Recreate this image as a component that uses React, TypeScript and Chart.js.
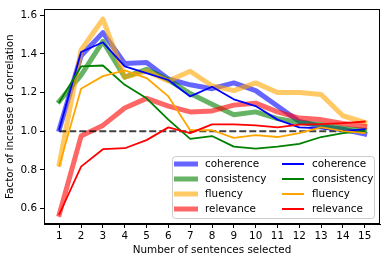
import React, { useEffect, useRef } from "react";
import Chart from "chart.js/auto";

const SENTENCES = [1, 2, 3, 4, 5, 6, 7, 8, 9, 10, 11, 12, 13, 14, 15];
const Y_TICKS = [0.6, 0.8, 1.0, 1.2, 1.4, 1.6];
const METRICS = ["coherence", "consistency", "fluency", "relevance"];

// thick translucent lines
const coherenceA = [1.01, 1.39, 1.51, 1.35, 1.355, 1.27, 1.24, 1.22, 1.25, 1.21, 1.13, 1.05, 1.025, 1.01, 0.985];
const consistencyA = [1.155, 1.29, 1.465, 1.28, 1.32, 1.265, 1.195, 1.14, 1.085, 1.1, 1.065, 1.045, 1.035, 1.015, 1.005];
const fluencyA = [0.83, 1.42, 1.58, 1.28, 1.31, 1.26, 1.31, 1.235, 1.21, 1.25, 1.2, 1.2, 1.19, 1.08, 1.045];
const relevanceA = [0.57, 0.975, 1.03, 1.12, 1.17, 1.13, 1.1, 1.105, 1.135, 1.145, 1.1, 1.068, 1.06, 1.04, 1.025];

// thin solid lines
const coherenceB = [1.01, 1.41, 1.46, 1.335, 1.3, 1.265, 1.18, 1.23, 1.165, 1.13, 1.06, 1.02, 1.015, 1.0, 1.01];
const consistencyB = [1.15, 1.335, 1.34, 1.24, 1.17, 1.06, 0.96, 0.975, 0.92, 0.91, 0.92, 0.935, 0.97, 0.99, 1.0];
const fluencyB = [0.82, 1.22, 1.285, 1.315, 1.275, 1.18, 1.005, 1.005, 0.966, 0.98, 0.97, 0.99, 1.02, 1.0, 0.99];
const relevanceB = [0.57, 0.817, 0.907, 0.912, 0.954, 1.02, 0.99, 1.035, 1.035, 1.03, 1.02, 1.034, 1.037, 1.042, 1.05];

const baseline = [1, 1, 1, 1, 1, 1, 1, 1, 1, 1, 1, 1, 1, 1, 1];

const THICK_COLORS = ["rgba(0,0,255,0.6)", "rgba(0,128,0,0.6)", "rgba(255,165,0,0.6)", "rgba(255,0,0,0.6)"];
const THIN_COLORS = ["#0000ff", "#008000", "#ffa500", "#ff0000"];

const FONT = "DejaVu Sans";
const FS = 10.4;

const pts = (ys: number[]) => SENTENCES.map((x, i) => ({ x, y: ys[i] }));

const framePlugin = {
  id: "frame",
  afterDatasetsDraw(chart: any) {
    const { ctx, chartArea } = chart;
    ctx.save();
    ctx.strokeStyle = "#000";
    ctx.lineWidth = 1;
    ctx.strokeRect(
      Math.round(chartArea.left) + 0.5,
      Math.round(chartArea.top) + 0.5,
      Math.round(chartArea.right - chartArea.left) - 1,
      Math.round(chartArea.bottom - chartArea.top) - 1
    );
    ctx.restore();
  },
};

const legendPlugin = {
  id: "innerLegend",
  afterDraw(chart: any) {
    const { ctx } = chart;
    ctx.save();
    const x0 = 172.5, y0 = 156.5, w = 202, h = 62, r = 3;
    ctx.beginPath();
    ctx.moveTo(x0 + r, y0);
    ctx.lineTo(x0 + w - r, y0);
    ctx.arcTo(x0 + w, y0, x0 + w, y0 + r, r);
    ctx.lineTo(x0 + w, y0 + h - r);
    ctx.arcTo(x0 + w, y0 + h, x0 + w - r, y0 + h, r);
    ctx.lineTo(x0 + r, y0 + h);
    ctx.arcTo(x0, y0 + h, x0, y0 + h - r, r);
    ctx.lineTo(x0, y0 + r);
    ctx.arcTo(x0, y0, x0 + r, y0, r);
    ctx.closePath();
    ctx.fillStyle = "rgba(255,255,255,0.8)";
    ctx.fill();
    ctx.strokeStyle = "#cccccc";
    ctx.lineWidth = 1;
    ctx.stroke();

    ctx.font = `${FS}px "${FONT}"`;
    ctx.textBaseline = "middle";
    ctx.textAlign = "left";
    const rowY = [164, 179, 194, 209];
    METRICS.forEach((m, i) => {
      const y = rowY[i];
      ctx.fillStyle = THICK_COLORS[i];
      ctx.fillRect(174, y - 2.5, 24, 5);
      ctx.fillStyle = THIN_COLORS[i];
      ctx.fillRect(282, y - 1, 22, 2);
      ctx.fillStyle = "#000";
      ctx.fillText(m, 205, y);
      ctx.fillText(m, 312, y);
    });
    ctx.restore();
  },
};

export default function App() {
  const ref = useRef<HTMLCanvasElement | null>(null);

  useEffect(() => {
    if (!ref.current) return;
    const thick = [coherenceA, consistencyA, fluencyA, relevanceA];
    const thin = [coherenceB, consistencyB, fluencyB, relevanceB];
    const datasets: any[] = [];
    thick.forEach((d, i) => {
      datasets.push({
        label: METRICS[i],
        data: pts(d),
        borderColor: THICK_COLORS[i],
        borderWidth: 5,
        pointRadius: 0,
        fill: false,
        tension: 0,
        borderJoinStyle: "round",
        borderCapStyle: "square",
        order: 13 - i,
      });
    });
    datasets.push({
      label: "baseline",
      data: pts(baseline),
      borderColor: "rgba(0,0,0,0.75)",
      borderWidth: 2,
      borderDash: [7, 3],
      pointRadius: 0,
      fill: false,
      order: 5,
    });
    thin.forEach((d, i) => {
      datasets.push({
        label: METRICS[i],
        data: pts(d),
        borderColor: THIN_COLORS[i],
        borderWidth: 1.8,
        pointRadius: 0,
        fill: false,
        tension: 0,
        borderJoinStyle: "round",
        borderCapStyle: "square",
        order: 4 - i,
      });
    });

    const chart = new Chart(ref.current, {
      type: "line",
      data: { datasets },
      options: {
        animation: false,
        responsive: false,
        maintainAspectRatio: false,
        layout: { padding: { top: 6, right: 6, left: 0, bottom: 0 } },
        plugins: { legend: { display: false }, tooltip: { enabled: false } },
        scales: {
          x: {
            type: "linear",
            min: 0.3,
            max: 15.7,
            afterBuildTicks: (s: any) => {
              s.ticks = SENTENCES.map((v) => ({ value: v }));
            },
            afterFit: (s: any) => {
              s.height = 38;
            },
            grid: { drawOnChartArea: false, drawTicks: true, tickLength: 4, color: "#000" },
            border: { display: true, color: "#000", width: 1 },
            ticks: {
              color: "#000",
              padding: 2,
              maxRotation: 0,
              autoSkip: false,
              font: { family: FONT, size: FS },
              callback: (v: any) => String(v),
            },
            title: {
              display: true,
              text: "Number of sentences selected",
              color: "#000",
              font: { family: FONT, size: FS },
              padding: { top: 0, bottom: 5.8 },
            },
          },
          y: {
            type: "linear",
            min: 0.52,
            max: 1.631,
            afterBuildTicks: (s: any) => {
              s.ticks = Y_TICKS.map((v) => ({ value: v }));
            },
            afterFit: (s: any) => {
              s.width = 44;
            },
            grid: { drawOnChartArea: false, drawTicks: true, tickLength: 4, color: "#000" },
            border: { display: true, color: "#000", width: 1 },
            ticks: {
              color: "#000",
              padding: 3,
              autoSkip: false,
              font: { family: FONT, size: FS },
              callback: (v: any) => Number(v).toFixed(1),
            },
            title: {
              display: true,
              text: "Factor of increase of correlation",
              color: "#000",
              font: { family: FONT, size: FS },
              padding: { top: 4, bottom: 0 },
            },
          },
        },
      },
      plugins: [framePlugin, legendPlugin],
    } as any);
    return () => chart.destroy();
  }, []);

  return (
    <div style={{ position: "absolute", left: 0, top: 0, width: 386, height: 262, background: "#fff" }}>
      <canvas ref={ref} width={386} height={262} style={{ display: "block" }} />
    </div>
  );
}
